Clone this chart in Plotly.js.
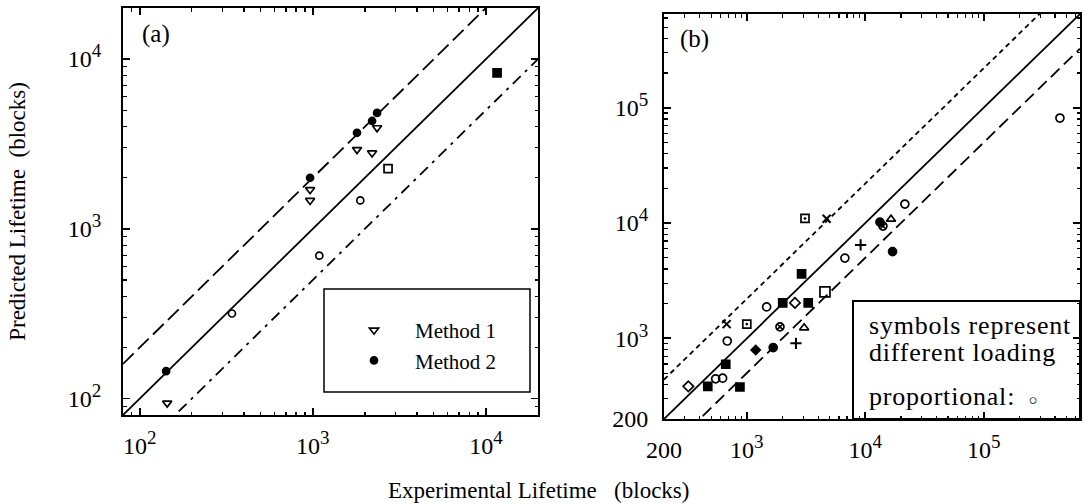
<!DOCTYPE html>
<html><head><meta charset="utf-8">
<script src="https://cdn.plot.ly/plotly-3.0.1.min.js"></script>
<style>html,body{margin:0;padding:0;background:#fff}#chart{width:1085px;height:504px}</style>
</head><body><div id="chart"></div>
<script>
// ---------- Panel (a) data ----------
const aMethod1X = [144, 964, 964, 1800, 2200, 2350];
const aMethod1Y = [94, 1700, 1470, 2930, 2800, 3940];
const aMethod2X = [142, 964, 1800, 2200, 2350];
const aMethod2Y = [145, 2000, 3680, 4320, 4820];
const aCircleX = [341, 1090, 1880];
const aCircleY = [317, 695, 1470];
const aSquareX = [2720];
const aSquareY = [2260];
const aSquareXX = [11600];
const aSquareXY = [8300];
const aRange = [80, 20000];
const aFactorUpper = 2;
const aFactorLower = 2;
const aTickVals = [100, 1000, 10000];
const sup = n => '10<sup><span style="font-size:19px">' + n + '</span></sup>';
const aTickText = [sup(2), sup(3), sup(4)];
const legendNames = ['Method 1', 'Method 2'];

// ---------- Panel (b) data ----------
const bCircleOpenX = [546, 625, 684, 1470, 6730, 21600, 440000];
const bCircleOpenY = [446, 452, 949, 1875, 4970, 14600, 81400];
const bSquareX = [468, 875, 2010, 3300];
const bSquareY = [384, 379, 2030, 2030];
const bSquareXX = [664, 2900];
const bSquareXY = [597, 3630];
const bSquareDotX = [1000, 3100];
const bSquareDotY = [1330, 10970];
const bCrossX = [676, 4720];
const bCrossY = [1330, 10900];
const bDiamondOpenX = [321, 2550];
const bDiamondOpenY = [384, 2030];
const bDiamondX = [1190];
const bDiamondY = [794];
const bDotX = [1670, 13300, 17000];
const bDotY = [832, 10200, 5660];
const bPlusX = [2600, 9140];
const bPlusY = [906, 6460];
const bTriangleX = [3050, 16500];
const bTriangleY = [1236, 10800];
const bSlashX = [1905, 14100];
const bSlashY = [1260, 9420];
const bBigSquareX = [4570];
const bBigSquareY = [2530];
const bRange = [200, 650000];
const bFactorUpper = 2.2;
const bFactorLower = 2;
const bTickVals = [200, 1000, 10000, 100000];
const bTickText = ['200', sup(3), sup(4), sup(5)];
const bLegendLines = ['symbols represent', 'different loading', 'proportional:\u2009 <span style="font-size:15px">\u25CB</span>'];

const xTitle = 'Experimental Lifetime\u00a0\u00a0 (blocks)';
const yTitle = 'Predicted Lifetime\u00a0 (blocks)';

// ---------- helpers ----------
const FONT = 'Liberation Serif, Times New Roman, serif';
function pts(x, y, xa, ya, symbol, size, opts) {
  return Object.assign({
    type: 'scatter', mode: 'markers', x: x, y: y, xaxis: xa, yaxis: ya,
    showlegend: false, hoverinfo: 'x+y',
    marker: {symbol: symbol, size: size, color: '#000', line: {color: '#000', width: 1.7}}
  }, opts || {});
}
function refLine(range, factor, xa, ya, dash) {
  const xs = [range[0], range[1]];
  return {type: 'scatter', mode: 'lines', x: xs, y: xs.map(v => v * factor),
    xaxis: xa, yaxis: ya, showlegend: false, hoverinfo: 'skip',
    line: {color: '#000', width: 1.8, dash: dash}, cliponaxis: true};
}

const traces = [
  refLine(aRange, 1, 'x', 'y', 'solid'),
  refLine(aRange, aFactorUpper, 'x', 'y', '15px,6px'),
  refLine(aRange, 1 / aFactorLower, 'x', 'y', '11px,6px,3px,6px'),
  pts(aMethod1X, aMethod1Y, 'x', 'y', 'triangle-down-open', 8, {showlegend: true, name: legendNames[0], legendgroup: 'm1'}),
  pts(aMethod2X, aMethod2Y, 'x', 'y', 'circle', 7, {showlegend: true, name: legendNames[1], legendgroup: 'm2'}),
  pts(aCircleX, aCircleY, 'x', 'y', 'circle-open', 7),
  pts(aSquareX, aSquareY, 'x', 'y', 'square-open', 8),
  pts(aSquareXX, aSquareXY, 'x', 'y', 'square-x', 8),

  refLine(bRange, 1, 'x2', 'y2', 'solid'),
  refLine(bRange, bFactorUpper, 'x2', 'y2', '5px,4px'),
  refLine(bRange, 1 / bFactorLower, 'x2', 'y2', '12px,6px'),
  pts(bCircleOpenX, bCircleOpenY, 'x2', 'y2', 'circle-open', 8),
  pts(bSquareX, bSquareY, 'x2', 'y2', 'square', 8),
  pts(bSquareXX, bSquareXY, 'x2', 'y2', 'square-x', 8),
  pts(bSquareDotX, bSquareDotY, 'x2', 'y2', 'square-open-dot', 8),
  pts(bCrossX, bCrossY, 'x2', 'y2', 'x-thin-open', 8, {marker: {symbol: 'x-thin-open', size: 8, color: '#000', line: {color: '#000', width: 2}}}),
  pts(bDiamondOpenX, bDiamondOpenY, 'x2', 'y2', 'diamond-open', 8),
  pts(bDiamondX, bDiamondY, 'x2', 'y2', 'diamond', 7),
  pts(bDotX, bDotY, 'x2', 'y2', 'circle', 8),
  pts(bPlusX, bPlusY, 'x2', 'y2', 'cross-thin-open', 8, {marker: {symbol: 'cross-thin-open', size: 8, color: '#000', line: {color: '#000', width: 2}}}),
  pts(bTriangleX, bTriangleY, 'x2', 'y2', 'triangle-up-open', 8),
  pts(bSlashX, bSlashY, 'x2', 'y2', 'circle-x-open', 8),
  pts(bBigSquareX, bBigSquareY, 'x2', 'y2', 'square-open', 10)
];

// ---------- layout geometry ----------
const W = 1085, H = 504;
const M = {l: 45, r: 4, t: 4, b: 70};
const PW = W - M.l - M.r, PH = H - M.t - M.b;
const px = v => (v - M.l) / PW;
const py = v => (H - M.b - v) / PH;

function logAxis(domain, range, tickVals, tickText, anchor, standoff) {
  return {
    type: 'log', domain: domain, anchor: anchor,
    range: [Math.log10(range[0]), Math.log10(range[1])],
    tickmode: 'array', tickvals: tickVals, ticktext: tickText,
    ticks: 'inside', ticklen: 7, tickwidth: 1.8, tickcolor: '#000',
    showline: true, linecolor: '#000', linewidth: 2, mirror: 'ticks',
    showgrid: false, zeroline: false, automargin: false,
    ticklabelstandoff: standoff,
    tickfont: {family: FONT, size: 24, color: '#000'},
    minor: {ticks: 'inside', ticklen: 3.5, tickwidth: 1.2, tickcolor: '#000', dtick: 'D1', showgrid: false}
  };
}

const legFont = {family: FONT, size: 26, color: '#000'};
const layout = {
  width: W, height: H, margin: M,
  paper_bgcolor: '#fff', plot_bgcolor: '#fff',
  font: {family: FONT, color: '#000', size: 21},
  xaxis: logAxis([px(123), px(538)], aRange, aTickVals, aTickText, 'y', 8),
  yaxis: Object.assign(logAxis([py(415), py(8)], aRange, aTickVals, aTickText, 'x', 15),
    {title: {text: yTitle, font: {family: FONT, size: 23, color: '#000'}, standoff: 36}}),
  xaxis2: logAxis([px(664), px(1080)], bRange, bTickVals, bTickText, 'y2', 8),
  yaxis2: logAxis([py(419), py(14)], bRange, bTickVals, bTickText, 'x2', 9),
  showlegend: true,
  legend: {x: px(333), y: py(310), xanchor: 'left', yanchor: 'top',
    bgcolor: 'rgba(0,0,0,0)', borderwidth: 0, itemwidth: 72,
    traceorder: 'grouped', tracegroupgap: 0,
    font: {family: FONT, size: 21, color: '#000'}},
  shapes: [
    {type: 'rect', xref: 'paper', yref: 'paper', x0: px(324), x1: px(530), y0: py(392), y1: py(289),
      line: {color: '#000', width: 1.5}},
    {type: 'rect', xref: 'paper', yref: 'paper', x0: px(853), x1: px(1080), y0: py(419), y1: py(301),
      line: {color: '#000', width: 2}}
  ],
  annotations: [
    {text: xTitle, xref: 'paper', yref: 'paper', x: px(538), y: py(490), xanchor: 'center', yanchor: 'middle',
      showarrow: false, font: {family: FONT, size: 23, color: '#000'}},
    {text: '(a)', xref: 'paper', yref: 'paper', x: px(156), y: py(34), xanchor: 'center', yanchor: 'middle',
      showarrow: false, font: {family: FONT, size: 25, color: '#000'}},
    {text: '(b)', xref: 'paper', yref: 'paper', x: px(694), y: py(39), xanchor: 'center', yanchor: 'middle',
      showarrow: false, font: {family: FONT, size: 25, color: '#000'}},
    {text: '<span style="letter-spacing:0.8px">' + bLegendLines[0] + '</span>', xref: 'paper', yref: 'paper', x: px(867), y: py(325), xanchor: 'left', yanchor: 'middle',
      showarrow: false, font: legFont},
    {text: '<span style="letter-spacing:0.8px">' + bLegendLines[1] + '</span>', xref: 'paper', yref: 'paper', x: px(867), y: py(352), xanchor: 'left', yanchor: 'middle',
      showarrow: false, font: legFont},
    {text: '<span style="letter-spacing:0.8px">' + bLegendLines[2] + '</span>', xref: 'paper', yref: 'paper', x: px(867), y: py(396), xanchor: 'left', yanchor: 'middle',
      showarrow: false, font: legFont}
  ]
};

Plotly.newPlot('chart', traces, layout, {staticPlot: true, displayModeBar: false});
</script>
</body></html>
